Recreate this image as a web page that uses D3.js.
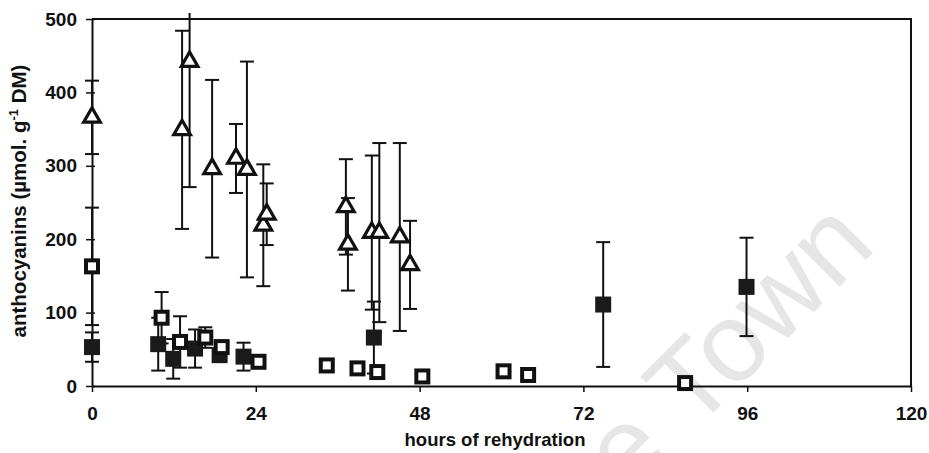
<!DOCTYPE html>
<html lang="en">
<head>
    <meta charset="UTF-8">
    <title>Anthocyanins during rehydration</title>
    <style>
        body
        {
            margin: 0;
            background: #ffffff;
        }

        text
        {
            font-family: "Liberation Sans", Arial, sans-serif;
            fill: #111111;
        }

        .tick text
        {
            font-size: 19px;
            font-weight: bold;
        }

        .axis-label
        {
            font-size: 18.5px;
            font-weight: bold;
        }
    </style>
</head>
<body>

    <svg width="929" height="453"></svg>

    <script src="https://d3js.org/d3.v7.min.js"></script>

    <script>

        // Open triangles
        const triHours = [0, 13.2, 14.3, 17.6, 21.1, 22.7, 25.1, 25.6, 37.2, 37.5, 41.0, 42.1, 45.1, 46.6];
        const triValues = [366, 349, 442, 296, 310, 295, 219, 234, 244, 193, 209, 209, 203, 165];
        const triErrors = [50, 135, 171, 121, 47, 147, 83, 42, 65, 63, 105, 122, 128, 60];

        // Open squares
        const openHours = [0, 10.2, 12.9, 16.6, 19.0, 24.4, 34.4, 38.9, 41.8, 48.4, 60.3, 63.9, 86.9];
        const openValues = [163, 93, 60, 66, 53, 33, 28, 24, 19, 13, 20, 15, 4];
        const openErrors = [80, 35, 35, 14, 0, 0, 0, 0, 0, 0, 0, 0, 0];

        // Filled squares
        const filledHours = [0, 9.7, 11.9, 15.1, 18.7, 22.2, 41.3, 74.9, 95.9];
        const filledValues = [53, 57, 37, 51, 42, 40, 66, 111, 135];
        const filledErrors = [20, 36, 27, 26, 0, 19, 49, 85, 67];

        const xTickValues = [0, 24, 48, 72, 96, 120];
        const yTickValues = [0, 100, 200, 300, 400, 500];

        const xLabel = 'hours of rehydration';

        const margin = { left: 92, right: 18, top: 19, bottom: 67 };

        const svg = d3.select('svg');
        const width = +svg.attr('width');
        const height = +svg.attr('height');
        const innerWidth = width - margin.left - margin.right;
        const innerHeight = height - margin.top - margin.bottom;

        const xScale = d3.scaleLinear().domain([0, 120]).range([0, innerWidth]);
        const yScale = d3.scaleLinear().domain([0, 500]).range([innerHeight, 0]);

        // Watermark, sits behind everything
        svg.append('text')
            .text('Cape Town')
            .attr('transform', 'translate(878 248) rotate(-45)')
            .style('text-anchor', 'end')
            .style('font-size', '112px')
            .style('fill', '#e6e6e6');

        const group = svg.append('g')
            .attr('transform', 'translate(' + margin.left + ' ' + margin.top + ')');

        // Axes
        const xAxisG = group.append('g')
            .attr('transform', 'translate(0 ' + innerHeight + ')')
            .call(d3.axisBottom(xScale).tickValues(xTickValues).tickSize(6).tickSizeOuter(0).tickPadding(15));

        const yAxisG = group.append('g')
            .call(d3.axisLeft(yScale).tickValues(yTickValues).tickSize(6).tickSizeOuter(0).tickPadding(9));

        // y ticks cross the axis line
        yAxisG.selectAll('.tick line').attr('x1', 3);

        group.selectAll('.domain').attr('stroke', '#111').attr('stroke-width', 2);
        group.selectAll('.tick line').attr('stroke', '#111').attr('stroke-width', 1.5);

        // Frame: top and right lines
        group.append('path')
            .attr('d', d3.line()([[0, 0], [innerWidth, 0], [innerWidth, innerHeight]]))
            .attr('fill', 'none')
            .attr('stroke', '#111')
            .attr('stroke-width', 2);

        // Axis titles
        svg.append('text')
            .attr('class', 'axis-label')
            .attr('x', 495)
            .attr('y', 446)
            .style('text-anchor', 'middle')
            .text(xLabel);

        const yTitle = svg.append('text')
            .attr('class', 'axis-label')
            .attr('transform', 'translate(26 201) rotate(-90)')
            .style('text-anchor', 'middle')
            .style('font-size', '20.5px');
        yTitle.append('tspan').text('anthocyanins (µmol. g');
        yTitle.append('tspan').text('-1').attr('dy', -8).style('font-size', '13px');
        yTitle.append('tspan').text(' DM)').attr('dy', 8);

        // Error bars are clipped a little above the frame
        svg.append('clipPath')
            .attr('id', 'clip')
            .append('rect')
            .attr('x', -20)
            .attr('y', -6)
            .attr('width', innerWidth + 40)
            .attr('height', innerHeight + 6);

        const barsG = group.append('g').attr('clip-path', 'url(#clip)');

        const capHalf = 7;

        const drawErrors = function (hours, values, errors) {
            hours.forEach(function (h, i) {
                if (errors[i] <= 0) return;
                const x = xScale(h);
                const yTop = yScale(values[i] + errors[i]);
                const yBot = yScale(values[i] - errors[i]);
                barsG.append('line')
                    .attr('x1', x).attr('x2', x)
                    .attr('y1', yTop).attr('y2', yBot)
                    .attr('stroke', '#111').attr('stroke-width', 2);
                [yTop, yBot].forEach(function (y) {
                    barsG.append('line')
                        .attr('x1', x - capHalf).attr('x2', x + capHalf)
                        .attr('y1', y).attr('y2', y)
                        .attr('stroke', '#111').attr('stroke-width', 2);
                });
            });
        };

        drawErrors(triHours, triValues, triErrors);
        drawErrors(openHours, openValues, openErrors);
        drawErrors(filledHours, filledValues, filledErrors);

        // Markers
        const sq = 12;

        group.append('g')
            .selectAll('rect')
            .data(d3.range(filledHours.length))
            .join('rect')
            .attr('x', function (i) { return xScale(filledHours[i]) - sq / 2; })
            .attr('y', function (i) { return yScale(filledValues[i]) - sq / 2; })
            .attr('width', sq)
            .attr('height', sq)
            .attr('fill', '#1a1a1a')
            .attr('stroke', '#1a1a1a')
            .attr('stroke-width', 4);

        group.append('g')
            .selectAll('rect')
            .data(d3.range(openHours.length))
            .join('rect')
            .attr('x', function (i) { return xScale(openHours[i]) - sq / 2; })
            .attr('y', function (i) { return yScale(openValues[i]) - sq / 2; })
            .attr('width', sq)
            .attr('height', sq)
            .attr('fill', '#ffffff')
            .attr('stroke', '#111')
            .attr('stroke-width', 4);

        const tri = d3.symbol().type(d3.symbolTriangle).size(120);

        group.append('g')
            .selectAll('path')
            .data(d3.range(triHours.length))
            .join('path')
            .attr('d', tri)
            .attr('transform', function (i) {
                return 'translate(' + xScale(triHours[i]) + ' ' + yScale(triValues[i]) + ')';
            })
            .attr('fill', '#ffffff')
            .attr('stroke', '#111')
            .attr('stroke-width', 3.2)
            .attr('stroke-linejoin', 'miter');

    </script>

</body>
</html>
